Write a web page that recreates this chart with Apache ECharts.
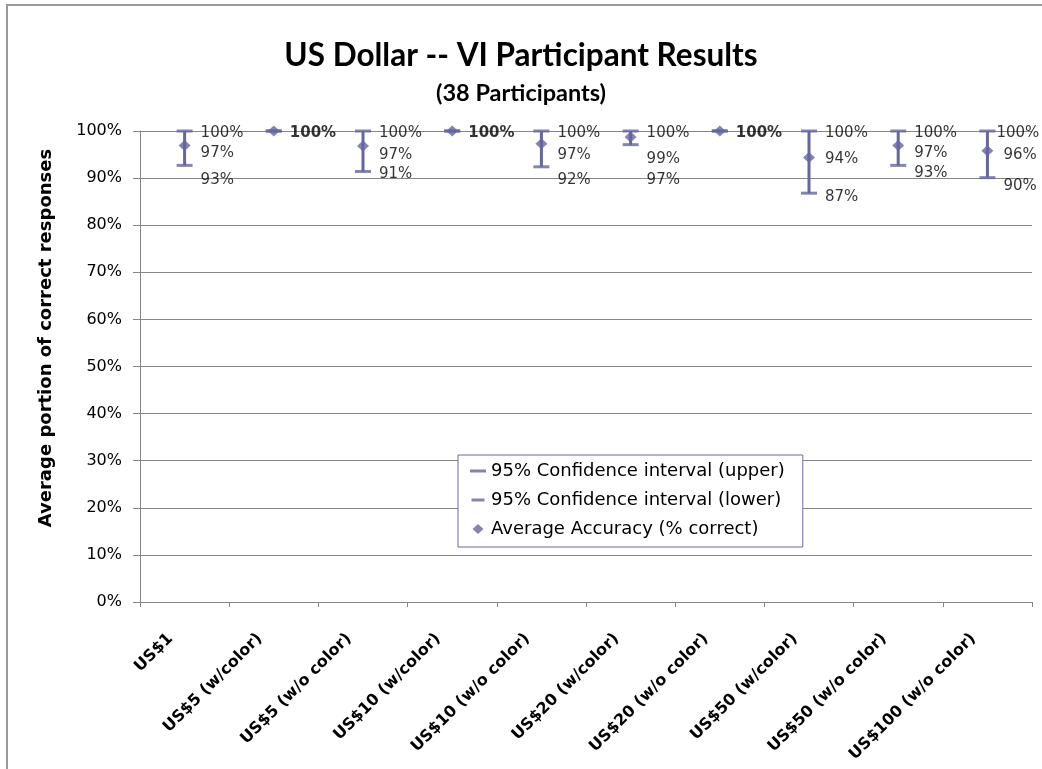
<!DOCTYPE html>
<html>
<head>
<meta charset="utf-8">
<script src="https://cdn.jsdelivr.net/npm/echarts@6/dist/echarts.min.js"></script>
<style>html,body{margin:0;padding:0;background:#fff}#chart{width:1042px;height:769px}</style>
</head>
<body>
<div id="chart"></div>
<script>
// ---- data ----
const categories = ['US$1', 'US$5 (w/color)', 'US$5 (w/o color)', 'US$10 (w/color)', 'US$10 (w/o color)',
  'US$20 (w/color)', 'US$20 (w/o color)', 'US$50 (w/color)', 'US$50 (w/o color)', 'US$100 (w/o color)'];
const upperCI = [100, 100, 100, 100, 100, 100, 100, 100, 100, 100];
const avgAccuracy = [96.9, 100, 96.8, 100, 97.3, 98.7, 100, 94.4, 96.9, 95.8];
const lowerCI = [92.7, 100, 91.4, 100, 92.4, 97.1, 100, 86.8, 92.7, 90.1];
const yTicks = [0, 10, 20, 30, 40, 50, 60, 70, 80, 90, 100];

// ---- label nudges (style only) ----
const upperDx = [0, 0, 0, 0, 0, 0, 0, 0, 0, -7];
const avgDy = [8, 0, 9, 0, 11, 22, 0, 2, 8, 4];
const lowerDy = [15, 0, 3, 0, 13, 35, 0, 4, 8, 8];

const COLOR = '#65659f';
const allSame = i => upperCI[i] === avgAccuracy[i] && avgAccuracy[i] === lowerCI[i];
const pct = v => Math.round(v) + '%';
const labelFont = { fontFamily: 'DejaVu Sans', fontSize: 15, color: '#000' };

const chart = echarts.init(document.getElementById('chart'), null, { renderer: 'canvas' });

const option = {
  animation: false,
  backgroundColor: '#fff',
  graphic: [
    { type: 'rect', shape: { x: 7, y: 5, width: 1200, height: 900 }, style: { fill: 'none', stroke: '#9a9a9a', lineWidth: 2 }, silent: true, z: 100 },
    { type: 'text', x: 46, y: 338, rotation: Math.PI / 2, style: { text: 'Average portion of correct responses', font: 'bold 18px "DejaVu Sans"', fill: '#000', align: 'center', verticalAlign: 'middle' } }
  ],
  title: {
    text: 'US Dollar -- VI Participant Results',
    subtext: '(38 Participants)',
    left: 'center',
    top: 35,
    itemGap: 9,
    textStyle: { fontFamily: 'Lato', fontWeight: 'bold', fontSize: 31.5, color: '#000' },
    subtextStyle: { fontFamily: 'Lato', fontWeight: 'bold', fontSize: 23.5, color: '#000' }
  },
  grid: { left: 140, right: 10, top: 131, bottom: 167, containLabel: false },
  legend: {
    orient: 'vertical',
    left: 458,
    top: 455,
    backgroundColor: '#fff',
    borderColor: '#6b6ba3',
    borderWidth: 1,
    borderRadius: 0,
    padding: [6, 18, 8, 12],
    itemGap: 9,
    itemWidth: 16,
    itemHeight: 11,
    textStyle: { fontFamily: 'DejaVu Sans', fontSize: 18, color: '#000', lineHeight: 20 },
    data: [
      { name: '95% Confidence interval (upper)', icon: 'path://M0,0 M0,4 L16,4 L16,7 L0,7 Z M16,11' },
      { name: '95% Confidence interval (lower)', icon: 'path://M0,0 M1.5,4 L14.5,4 L14.5,7 L1.5,7 Z M16,11' },
      { name: 'Average Accuracy (% correct)', icon: 'path://M0,0 M8,0.5 L13.5,5.5 L8,10.5 L2.5,5.5 Z M16,11' }
    ]
  },
  xAxis: {
    type: 'category',
    data: categories,
    boundaryGap: true,
    axisLine: { lineStyle: { color: '#868686', width: 1 } },
    axisTick: { show: true, length: 5, lineStyle: { color: '#868686' } },
    axisLabel: { rotate: 45, margin: 20, interval: 0, align: 'right', verticalAlign: 'middle', padding: [0, 20, 0, 0], fontFamily: 'DejaVu Sans', fontWeight: 'bold', fontSize: 16, color: '#000' },
    splitLine: { show: false }
  },
  yAxis: {
    type: 'value',
    min: yTicks[0],
    max: yTicks[yTicks.length - 1],
    interval: 10,
    axisLine: { show: true, lineStyle: { color: '#868686' } },
    axisTick: { show: true, length: 7, lineStyle: { color: '#868686' } },
    axisLabel: { margin: 18, formatter: v => v + '%', fontFamily: 'DejaVu Sans', fontSize: 16, color: '#000' },
    splitLine: { show: true, lineStyle: { color: '#868686', width: 1 } }
  },
  series: [
    {
      name: 'hilo',
      type: 'custom',
      silent: true,
      z: 2,
      data: categories.map((c, i) => [i, lowerCI[i], upperCI[i]]),
      renderItem: (params, api) => {
        const lo = api.coord([api.value(0), api.value(1)]);
        const hi = api.coord([api.value(0), api.value(2)]);
        return { type: 'line', shape: { x1: lo[0], y1: lo[1], x2: hi[0], y2: hi[1] }, style: { stroke: COLOR, lineWidth: 3 } };
      }
    },
    {
      name: '95% Confidence interval (upper)',
      type: 'scatter',
      z: 3,
      symbol: 'rect',
      symbolSize: [16, 3],
      itemStyle: { color: COLOR },
      data: upperCI.map((v, i) => ({
        value: v,
        label: { show: !allSame(i), offset: [upperDx[i], 2] }
      })),
      label: { position: 'right', distance: 8, formatter: p => pct(p.value), ...labelFont }
    },
    {
      name: '95% Confidence interval (lower)',
      type: 'scatter',
      z: 3,
      symbol: 'rect',
      symbolSize: [16, 3],
      itemStyle: { color: COLOR },
      data: lowerCI.map((v, i) => ({
        value: v,
        label: { show: !allSame(i), offset: [0, lowerDy[i]] }
      })),
      label: { position: 'right', distance: 8, formatter: p => pct(p.value), ...labelFont }
    },
    {
      name: 'Average Accuracy (% correct)',
      type: 'scatter',
      z: 4,
      symbol: 'diamond',
      symbolSize: [12, 11],
      itemStyle: { color: COLOR },
      data: avgAccuracy.map((v, i) => ({
        value: v,
        label: allSame(i) ? { offset: [0, 2], fontWeight: 'bold' } : { offset: [0, avgDy[i]] }
      })),
      label: { show: true, position: 'right', distance: 10, formatter: p => pct(p.value), ...labelFont }
    }
  ]
};
chart.setOption(option);
</script>
</body>
</html>
